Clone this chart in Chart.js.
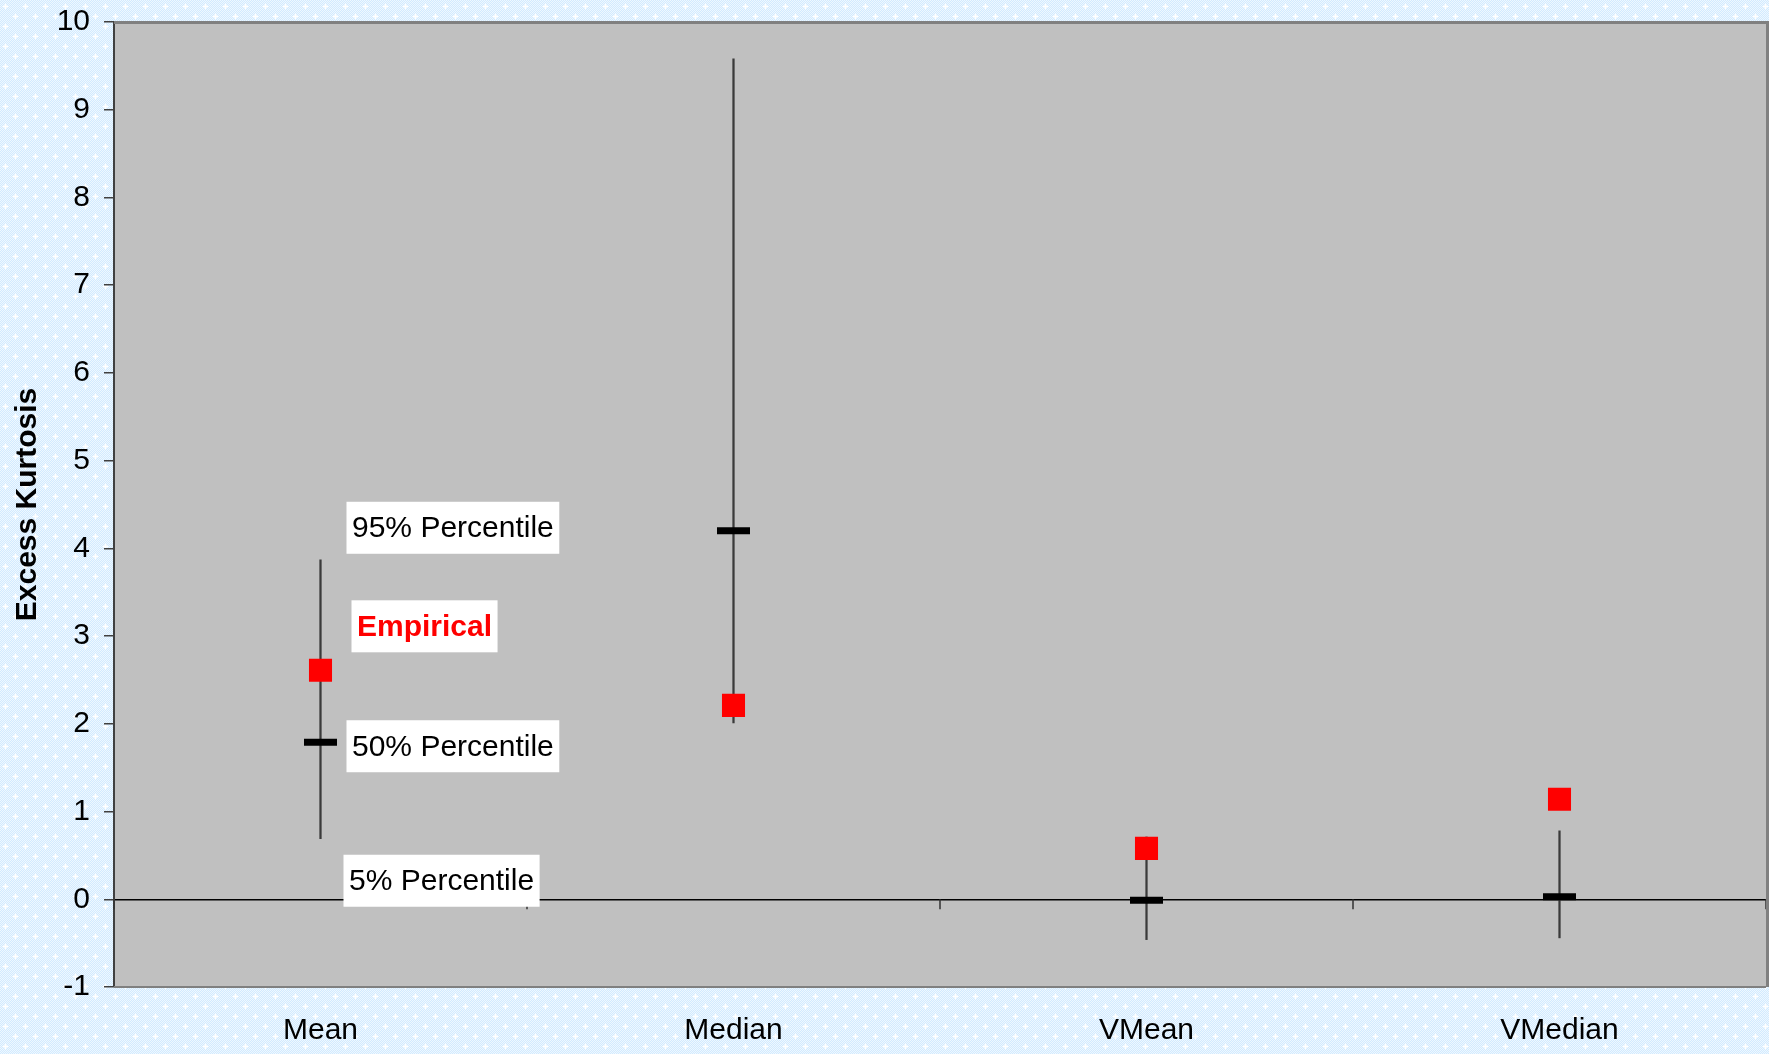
<!DOCTYPE html>
<html>
<head>
<meta charset="utf-8">
<script src="https://cdn.jsdelivr.net/npm/chart.js@4/dist/chart.umd.min.js"></script>
<style>
  html, body { margin: 0; padding: 0; overflow: hidden; background: #dcefff; }
  #wrap { width: 1769px; height: 1054px; }
</style>
</head>
<body>
<div id="wrap"><canvas id="c" width="1769" height="1054"></canvas></div>
<script>
// Estimators and their simulated excess-kurtosis distribution
const categories = ['Mean', 'Median', 'VMean', 'VMedian'];
const pct5  = [0.69, 2.01, -0.46, -0.44];
const pct95 = [3.87, 9.58, 0.71, 0.78];
const pct50 = [1.79, 4.20, -0.01, 0.03];
const empirical = [2.61, 2.21, 0.58, 1.14];

const yMin = -1;
const yMax = 10;
const yStep = 1;

const FONT = '"Liberation Sans", Arial, Helvetica, sans-serif';
const FONT_SIZE = 30;

// Light blue sparkle texture used behind the chart
function makeTexture(ctx) {
  const t = document.createElement('canvas');
  t.width = 20; t.height = 20;
  const g = t.getContext('2d');
  const img = g.createImageData(20, 20);
  for (let y = 0; y < 20; y++) {
    for (let x = 0; x < 20; x++) {
      const k = (y * 20 + x) * 4;
      const light = (x + y) % 2 === 0;
      img.data[k]     = light ? 238 : 210;
      img.data[k + 1] = light ? 248 : 234;
      img.data[k + 2] = 255;
      img.data[k + 3] = 255;
    }
  }
  g.putImageData(img, 0, 0);
  const star = (cx, cy) => {
    g.fillStyle = 'rgba(255,255,255,0.45)';
    g.fillRect(cx - 3, cy, 7, 1);
    g.fillRect(cx, cy - 3, 1, 7);
    g.fillStyle = 'rgba(255,255,255,0.6)';
    g.fillRect(cx - 1, cy - 1, 3, 3);
    g.fillStyle = 'rgba(255,255,255,1)';
    g.fillRect(cx - 2, cy, 5, 1);
    g.fillRect(cx, cy - 2, 1, 5);
  };
  star(5, 6);
  star(15, 16);
  return ctx.createPattern(t, 'repeat');
}

const backdrop = {
  id: 'backdrop',
  beforeDraw(chart) {
    const { ctx, chartArea: a } = chart;
    ctx.save();
    ctx.fillStyle = makeTexture(ctx);
    ctx.fillRect(0, 0, chart.width, chart.height);
    ctx.fillStyle = '#c0c0c0';
    ctx.fillRect(a.left, a.top, a.right - a.left, a.bottom - a.top);
    ctx.restore();
  },
  afterDraw(chart) {
    const { ctx, chartArea: a } = chart;
    ctx.save();
    ctx.strokeStyle = '#808080';
    ctx.lineWidth = 3;
    ctx.beginPath();
    ctx.moveTo(a.left, a.top + 0.5);
    ctx.lineTo(a.right + 1.5, a.top + 0.5);
    ctx.lineTo(a.right + 1.5, a.bottom);
    ctx.stroke();
    ctx.lineWidth = 2;
    ctx.beginPath();
    ctx.moveTo(a.left, a.bottom);
    ctx.lineTo(a.right, a.bottom);
    ctx.stroke();
    ctx.restore();
  }
};

// Category tick marks hanging below the zero line
const zeroTicks = {
  id: 'zeroTicks',
  beforeDatasetsDraw(chart) {
    const { ctx } = chart;
    const xs = chart.scales.x, ys = chart.scales.y;
    const y0 = ys.getPixelForValue(0);
    const half = (xs.getPixelForValue(1) - xs.getPixelForValue(0)) / 2;
    ctx.save();
    ctx.strokeStyle = '#333';
    ctx.lineWidth = 1.5;
    for (let i = 0; i <= categories.length; i++) {
      const x = Math.round(xs.getPixelForValue(0) - half + i * 2 * half);
      ctx.beginPath();
      ctx.moveTo(x, y0);
      ctx.lineTo(x, y0 + 10);
      ctx.stroke();
    }
    ctx.restore();
  }
};

// Boxed series captions beside the first estimator
const captions = {
  id: 'captions',
  afterDatasetsDraw(chart) {
    const { ctx } = chart;
    const xs = chart.scales.x, ys = chart.scales.y;
    const cx = xs.getPixelForValue(0);
    const items = [
      { text: '95% Percentile', v: pct95[0], dx: 26, dy: -32, color: '#000', bold: false },
      { text: 'Empirical',      v: empirical[0], dx: 31, dy: -44, color: '#ff0000', bold: true },
      { text: '50% Percentile', v: pct50[0], dx: 26, dy: 4, color: '#000', bold: false },
      { text: '5% Percentile',  v: pct5[0],  dx: 23, dy: 42, color: '#000', bold: false }
    ];
    ctx.save();
    ctx.textBaseline = 'middle';
    ctx.textAlign = 'left';
    for (const it of items) {
      ctx.font = (it.bold ? 'bold ' : '') + FONT_SIZE + 'px ' + FONT;
      const w = ctx.measureText(it.text).width + 11;
      const left = cx + it.dx;
      const yc = ys.getPixelForValue(it.v) + it.dy;
      ctx.fillStyle = '#ffffff';
      ctx.fillRect(left, yc - 26, w, 52);
      ctx.fillStyle = it.color;
      ctx.fillText(it.text, left + 5.5, yc + 1);
    }
    ctx.restore();
  }
};

new Chart(document.getElementById('c'), {
  type: 'bar',
  data: {
    labels: categories,
    datasets: [
      {
        type: 'line',
        label: 'Empirical',
        data: empirical,
        showLine: false,
        pointStyle: 'rect',
        pointRadius: 16.3,
        pointBackgroundColor: '#ff0000',
        pointBorderWidth: 0,
        order: 1
      },
      {
        type: 'line',
        label: '50% Percentile',
        data: pct50,
        showLine: false,
        pointStyle: 'line',
        pointRadius: 16.5,
        pointBorderWidth: 7,
        pointBorderColor: '#000000',
        order: 2
      },
      {
        type: 'bar',
        label: '5%-95% Percentile',
        data: pct5.map((v, i) => [v, pct95[i]]),
        backgroundColor: '#3a3a3a',
        borderWidth: 0,
        barThickness: 1.6,
        order: 3
      }
    ]
  },
  options: {
    responsive: false,
    animation: false,
    events: [],
    layout: { autoPadding: false, padding: { left: 0, top: 22, right: 3, bottom: 0 } },
    plugins: { legend: { display: false }, tooltip: { enabled: false } },
    scales: {
      x: {
        type: 'category',
        offset: true,
        grid: { display: false, drawTicks: false },
        border: { display: false },
        ticks: { color: '#000', font: { family: FONT, size: FONT_SIZE }, padding: 26, maxRotation: 0 },
        afterFit(scale) {
          scale.height = 67;
          scale.paddingLeft = 0;
          scale.paddingRight = 0;
        }
      },
      y: {
        min: yMin,
        max: yMax,
        ticks: { stepSize: yStep, color: '#000', font: { family: FONT, size: FONT_SIZE }, padding: 14 },
        grid: {
          drawOnChartArea: true,
          color: (c) => (c.tick && c.tick.value === 0 ? '#000000' : 'rgba(0,0,0,0)'),
          lineWidth: 1.5,
          tickLength: 10,
          tickColor: '#404040',
          tickWidth: 1.5
        },
        border: { display: true, color: '#404040', width: 2 },
        title: {
          display: true,
          text: 'Excess Kurtosis',
          color: '#000',
          font: { family: FONT, size: FONT_SIZE, weight: 'bold' },
          padding: { top: 10, bottom: 0 }
        },
        afterFit(scale) {
          scale.width = 114;
          scale.paddingTop = 0;
          scale.paddingBottom = 0;
        }
      }
    }
  },
  plugins: [backdrop, zeroTicks, captions]
});
</script>
</body>
</html>
